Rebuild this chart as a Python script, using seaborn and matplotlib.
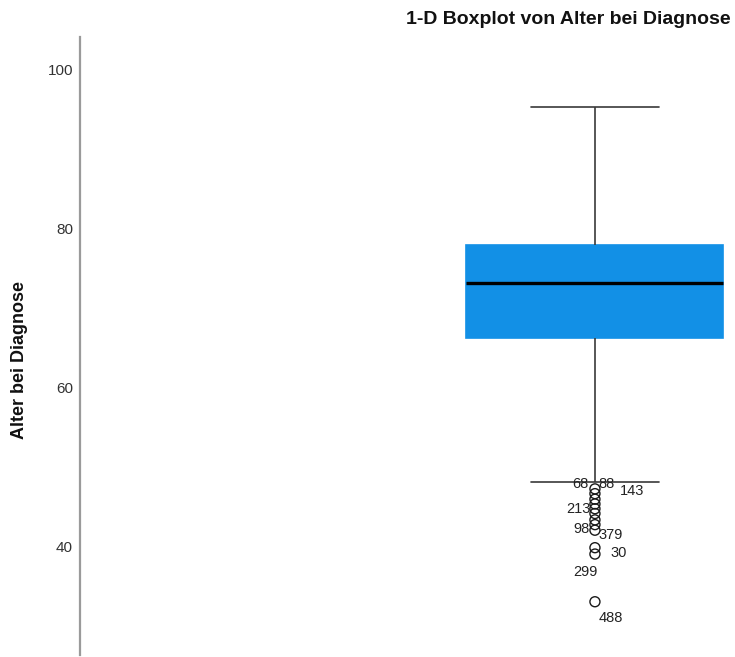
import matplotlib
matplotlib.use("Agg")
import matplotlib.pyplot as plt
import seaborn as sns
import numpy as np

# Five-number summary of "Alter bei Diagnose" (whisker ends, hinges, median)
box_summary = [48.2, 66.3, 73.2, 78.0, 95.3]
# Ages of the cases beyond the lower fence
outlier_ages = [47.3, 46.7, 46.0, 45.4, 44.8, 44.2, 43.4, 42.8, 42.1, 39.9, 39.1, 33.1]
# Case numbers shown next to outliers, with the age of the labelled case
label_cases = ["68", "88", "143", "213", "98", "379", "30", "299", "488"]
label_ages = [47.3, 47.3, 46.7, 44.8, 42.1, 42.1, 39.1, 39.1, 33.1]
y_ticks = [40, 60, 80, 100]

# Label placement around each point (pixels)
label_offsets = [(-15, 5), (12, 5), (37, 3), (-17, 0), (-13, 1),
                 (16, -5), (24, 1), (-10, -18), (16, -16)]

sns.set_style("white")
plt.rcParams["font.family"] = ["Liberation Sans", "DejaVu Sans"]

BOX_BLUE = "#1290E6"

fig = plt.figure(figsize=(7.35, 6.57), dpi=100)
ax = fig.add_axes([80 / 735, 2 / 657, 655 / 735, 618 / 657])

sns.boxplot(y=box_summary, whis=(0, 100), showfliers=False, width=0.8,
            color=BOX_BLUE, saturation=1, linecolor="#3a3a3a", linewidth=1.2,
            boxprops=dict(edgecolor=BOX_BLUE),
            medianprops=dict(color="black", linewidth=2.4),
            ax=ax)

sns.scatterplot(x=np.zeros(len(outlier_ages)), y=outlier_ages, ax=ax,
                marker="o", s=52, facecolor="none", edgecolor="#1a1a1a",
                linewidth=1.0, zorder=5)

for case, age, (dx, dy) in zip(label_cases, label_ages, label_offsets):
    ax.annotate(case, xy=(0, age), xytext=(dx, dy), textcoords="offset pixels",
                ha="center", va="center", fontsize=10.5, color="#222222")

ax.set_xlim(-1.603, 0.436)
ax.set_ylim(26.4, 104.15)
ax.set_yticks(y_ticks)
ax.set_yticklabels([str(t) for t in y_ticks])
ax.tick_params(axis="y", length=0, pad=5, labelsize=11, labelcolor="#333333")
ax.set_xticks([])
ax.set_xlabel("")
ax.set_ylabel("")

for side in ["top", "right", "bottom"]:
    ax.spines[side].set_visible(False)
ax.spines["left"].set_color("#9a9a9a")
ax.spines["left"].set_linewidth(1.6)

fig.text(731 / 735, 1 - 20 / 657, "1-D Boxplot von Alter bei Diagnose",
         ha="right", va="center", fontsize=14, fontweight="bold", color="#111111")
fig.text(20 / 735, 1 - 360 / 657, "Alter bei Diagnose",
         ha="center", va="center", rotation=90, fontsize=13, fontweight="bold",
         color="#111111")

fig.savefig("out.png", dpi=100, facecolor="white")
